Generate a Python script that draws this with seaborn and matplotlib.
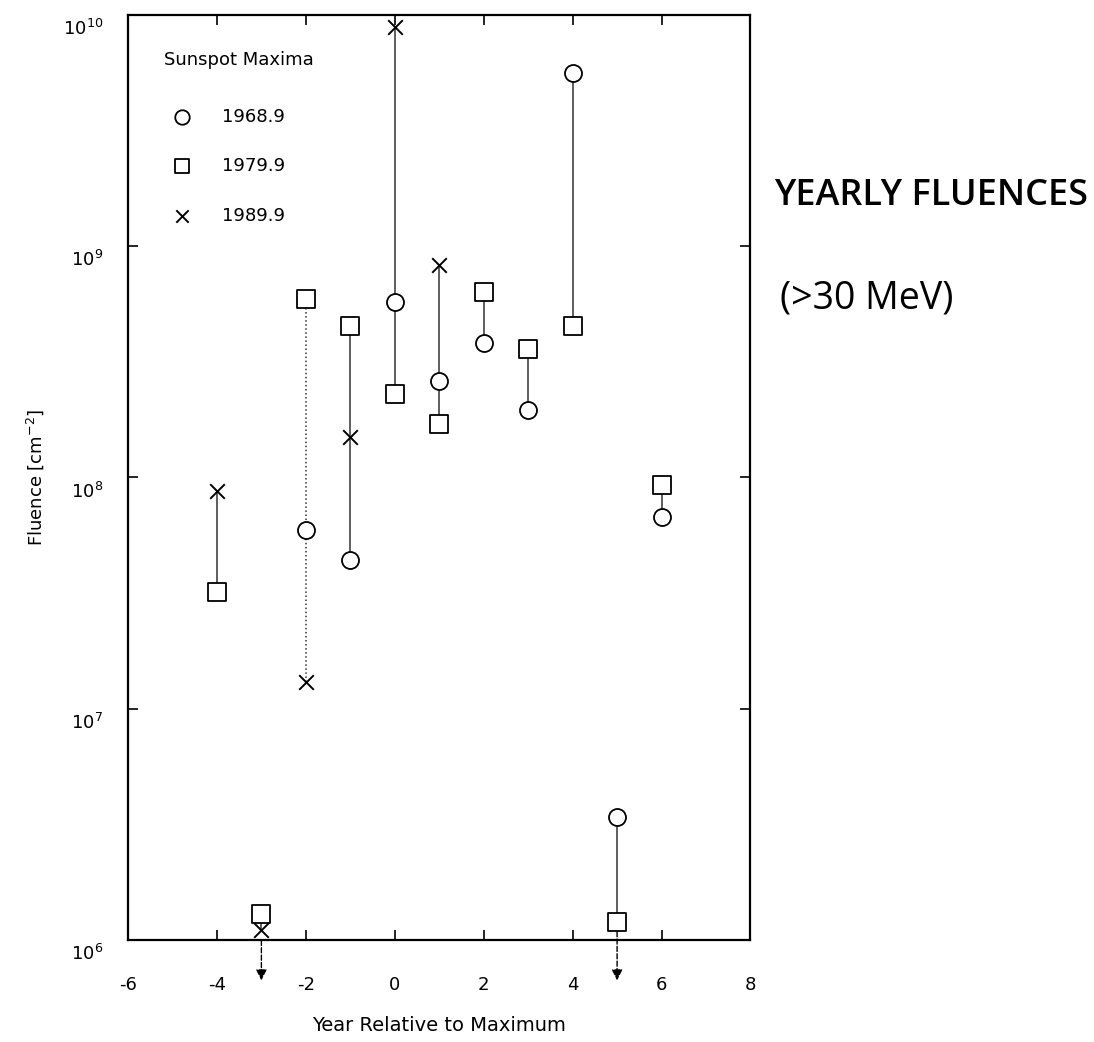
import numpy as np
import pandas as pd
import matplotlib
matplotlib.use("Agg")
import matplotlib.pyplot as plt
import matplotlib.transforms as mtransforms
import seaborn as sns

# fluence values (cm^-2), per year relative to maximum
years_1968 = [-2, -1, 0, 1, 2, 3, 4, 5, 6]
flu_1968 = [5.9e7, 4.4e7, 5.7e8, 2.6e8, 3.8e8, 1.95e8, 5.6e9, 3.4e6, 6.7e7]

years_1979 = [-4, -3, -2, -1, 0, 1, 2, 3, 4, 5, 6]
flu_1979 = [3.2e7, 1.3e6, 5.9e8, 4.5e8, 2.3e8, 1.7e8, 6.3e8, 3.6e8, 4.5e8, 1.2e6, 9.3e7]

years_1989 = [-4, -3, -2, -1, 0, 1]
flu_1989 = [8.7e7, 1.1e6, 1.3e7, 1.5e8, 8.8e9, 8.3e8]

upper_limit_years = [-3, 5]
dotted_years = [-2]

cycles = ["1968.9", "1979.9", "1989.9"]
markers = {"1968.9": "o", "1979.9": "s", "1989.9": "x"}

df = pd.concat([
    pd.DataFrame({"year": years_1968, "fluence": flu_1968, "cycle": "1968.9"}),
    pd.DataFrame({"year": years_1979, "fluence": flu_1979, "cycle": "1979.9"}),
    pd.DataFrame({"year": years_1989, "fluence": flu_1989, "cycle": "1989.9"}),
])

sns.set_style("ticks")
plt.rcParams["font.family"] = ["DejaVu Sans"]
plt.rcParams["axes.unicode_minus"] = False
plt.rcParams["text.color"] = "black"
plt.rcParams["axes.labelcolor"] = "black"
plt.rcParams["xtick.color"] = "black"
plt.rcParams["ytick.color"] = "black"

fig = plt.figure(figsize=(10.94, 10.42), dpi=100)
ax = fig.add_axes([0.117, 0.098, 0.569, 0.888])

# vertical connectors between the cycles for each year
span = df.groupby("year")["fluence"].agg(["min", "max"]).reset_index()
for _, r in span.iterrows():
    ls = ":" if r["year"] in dotted_years else "-"
    ax.vlines(r["year"], r["min"], r["max"], colors="#333333", linestyles=ls,
              linewidth=1.1, zorder=1)

for c in cycles:
    sub = df[df["cycle"] == c]
    if markers[c] == "x":
        sns.scatterplot(data=sub, x="year", y="fluence", marker="x", s=110,
                        color="black", linewidth=1.4, label=c, ax=ax, zorder=3)
    else:
        sns.scatterplot(data=sub, x="year", y="fluence", marker=markers[c], s=150,
                        facecolor="white", edgecolor="black", linewidth=1.3,
                        label=c, ax=ax, zorder=3)

# upper limit arrows pointing below the axis
for yr in upper_limit_years:
    lo = df[df["year"] == yr]["fluence"].min()
    ax.annotate("", xy=(yr, 6.5e5), xytext=(yr, lo * 0.93),
                arrowprops=dict(arrowstyle="-|>", color="black", lw=1.0,
                                linestyle="--", mutation_scale=16),
                annotation_clip=False, zorder=2)

ax.set_yscale("log")
ax.set_ylim(1e6, 1e10)
ax.set_xlim(-6, 8)
ax.set_xticks(np.arange(-6, 9, 2))
ax.set_yticks([1e6, 1e7, 1e8, 1e9, 1e10])
ax.minorticks_off()
ax.tick_params(direction="in", top=True, right=True, length=7, width=1.2,
               labelsize=13)
ax.tick_params(axis="x", pad=26)
ax.tick_params(axis="y", pad=18)
for s in ax.spines.values():
    s.set_linewidth(1.6)
    s.set_color("black")

# y labels sit a little below their ticks in the original
shift = mtransforms.ScaledTranslation(0, -9 / 72, fig.dpi_scale_trans)
for lab in ax.get_yticklabels():
    lab.set_transform(lab.get_transform() + shift)

ax.set_xlabel("Year Relative to Maximum", fontsize=14, labelpad=16)
ax.set_ylabel("Fluence [cm$^{-2}$]", fontsize=13, labelpad=12)

leg = ax.legend(title="Sunspot Maxima", loc="upper left", frameon=False,
                fontsize=13, title_fontsize=13, alignment="left",
                borderaxespad=1.6, labelspacing=1.75, handletextpad=1.2,
                markerscale=0.85)
leg._legend_box.sep = 28

fig.text(0.708, 0.812, "YEARLY FLUENCES", fontsize=26, family="Open Sans",
         fontweight="semibold", va="center")
fig.text(0.713, 0.714, "(>30 MeV)", fontsize=27, family="Open Sans",
         va="center")

fig.savefig("out.png", dpi=100)
